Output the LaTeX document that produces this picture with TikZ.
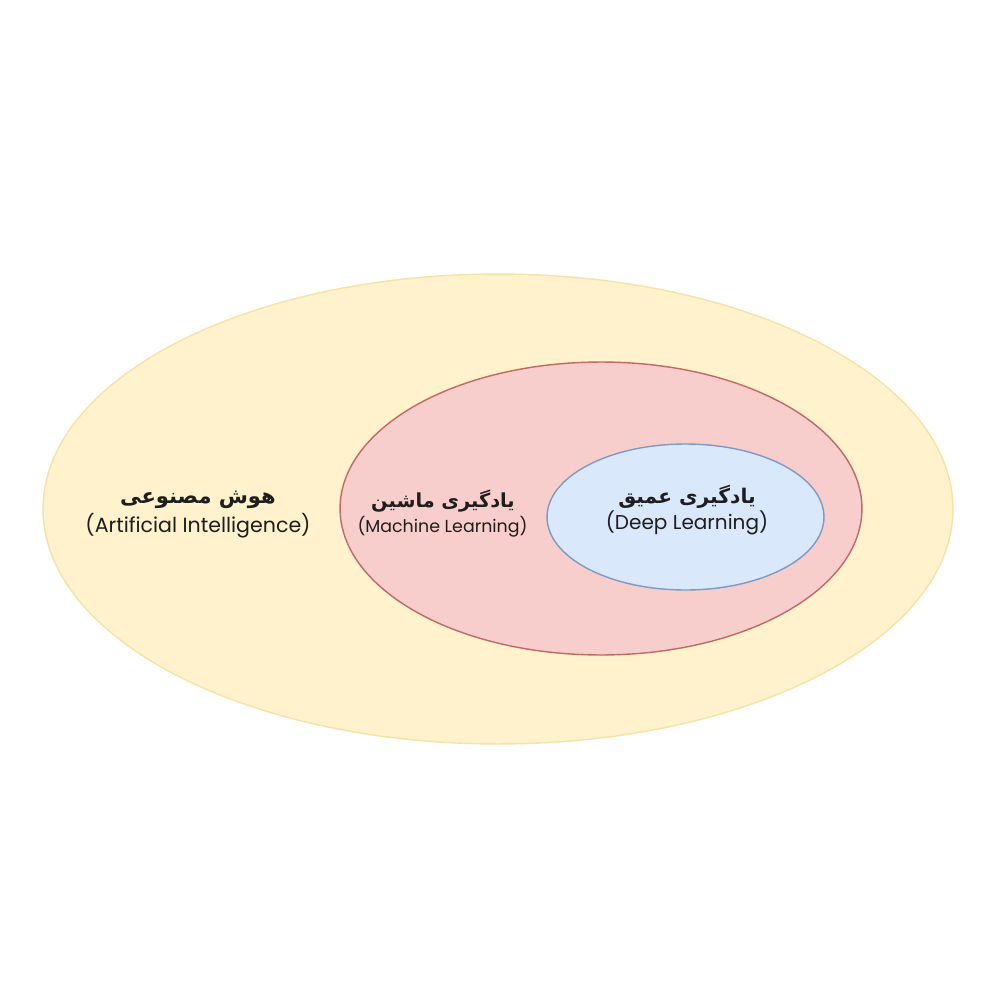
\documentclass[tikz,border=0pt]{standalone}
\usepackage{fontspec}
\setmainfont{Poppins}
\newfontfamily\fafont[Script=Arabic]{DejaVu Sans}
\TeXXeTstate=1
\usetikzlibrary{shapes.geometric}
\definecolor{aifill}{HTML}{FFF2CC}
\definecolor{aidraw}{HTML}{F3E3A6}
\definecolor{mlfill}{HTML}{F8CECC}
\definecolor{mldraw}{HTML}{BE6A66}
\definecolor{dlfill}{HTML}{DAE8FC}
\definecolor{dldraw}{HTML}{7D9AC4}
\definecolor{textc}{HTML}{1E1E1E}
\begin{document}
\begin{tikzpicture}[x=0.02cm,y=-0.02cm,
  setshape/.style={ellipse, inner sep=0pt, line width=0.8pt},
  fatext/.style={inner sep=0pt, text=textc, font=\fafont\bfseries\fontsize{#1}{16}\selectfont},
  entext/.style={inner sep=0pt, text=textc, font=\fontsize{#1}{14}\selectfont}]
\useasboundingbox[fill=white] (0,0) rectangle (1000,1000);
\node[setshape, fill=aifill, draw=aidraw, minimum width=18.2cm, minimum height=9.4cm] (ai) at (498,509) {};
\node[setshape, fill=mlfill, draw=mldraw, minimum width=10.44cm, minimum height=5.86cm] (ml) at (601,508.5) {};
\node[setshape, fill=dlfill, draw=dldraw, minimum width=5.54cm, minimum height=2.92cm] (dl) at (685.5,517) {};
\node[fatext=12] (aifa) at (198,500) {\beginR هوش مصنوعی\endR};
\node[entext=11.7] (aien) at (198,526) {(Artificial Intelligence)};
\node[fatext=11] (mlfa) at (443,501) {\beginR یادگیری ماشین\endR};
\node[entext=9.9] (mlen) at (442.5,527) {(Machine Learning)};
\node[fatext=11.5] (dlfa) at (687,497) {\beginR یادگیری عمیق\endR};
\node[entext=11.4] (dlen) at (687,523) {(Deep Learning)};
\end{tikzpicture}
\end{document}
